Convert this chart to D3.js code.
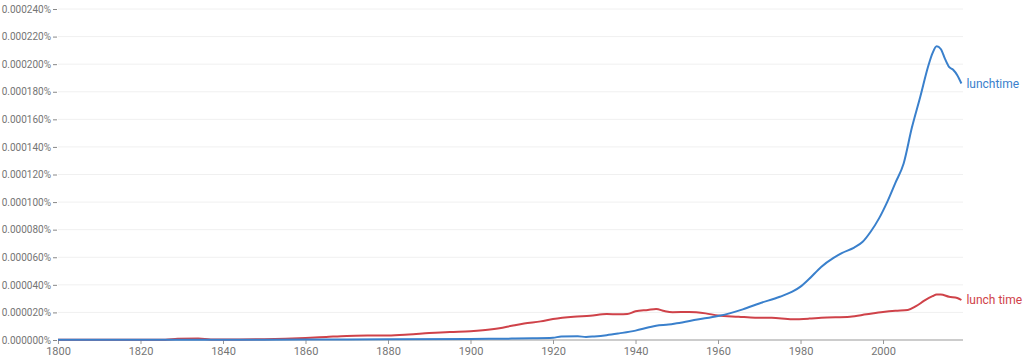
<!DOCTYPE html>
<html><head><meta charset="utf-8">
<script src="https://cdn.jsdelivr.net/npm/d3@7"></script>
<style>body{margin:0;background:#fff;} svg{display:block;font-family:Roboto,"Noto Sans",sans-serif;}</style>
</head><body>
<svg id="chart" width="1024" height="357"></svg>
<script>
// values in units of 1e-6 percent (e.g. 213 => 0.000213%)
const yTicks = [0, 20, 40, 60, 80, 100, 120, 140, 160, 180, 200, 220, 240];
const xTicks = [1800, 1820, 1840, 1860, 1880, 1900, 1920, 1940, 1960, 1980, 2000];
const seriesNames = ["lunchtime", "lunch time"];
const seriesColors = ["#3a80cc", "#cf4249"];

const lunchtimeYears = [1800,1830,1850,1860,1880,1900,1910,1915,1920,1922,1926,1928,1930,1933,1936,1940,1943,1945,1948,1950,1955,1960,1963,1966,1970,1975,1978,1980,1982,1985,1988,1990,1993,1995,1997,1999,2001,2003,2005,2007,2009,2011,2012,2013,2014,2015,2016,2017,2018,2019];
const lunchtimeValues = [0.1,0.1,0.15,0.3,0.5,0.8,1.0,1.2,1.6,2.6,2.7,2.2,2.6,3.5,4.8,6.8,9.0,10.4,11.2,12.1,14.8,17.4,19.5,22.2,26.5,31.4,35,38.7,44,53,59.5,63,67,71,78.5,88,100,114,128,154,176,199,208,213,211,204,198,196,192,186];

const lunchTimeYears = [1800,1826,1829,1834,1837,1840,1850,1860,1865,1870,1875,1880,1885,1890,1895,1900,1903,1907,1910,1913,1917,1920,1925,1929,1933,1936,1938,1940,1943,1945,1947,1949,1953,1957,1960,1965,1969,1973,1978,1982,1985,1992,1996,2000,2003,2006,2008,2010,2012,2013,2014,2016,2018,2019];
const lunchTimeValues = [0.2,0.2,0.9,1.0,0.4,0.3,0.6,1.5,2.2,2.9,3.2,3.3,4.0,5.0,5.8,6.3,7.0,8.5,10.3,12.0,13.5,15.2,16.9,17.6,18.8,18.6,18.8,20.8,21.8,22.5,21.0,20.2,20.3,19.3,17.8,16.9,16.2,16.1,15.0,15.5,16.2,16.9,18.6,20.3,21.2,21.8,24.5,28.5,31.8,33,33,31.4,30.5,29];

const svg = d3.select("#chart");
const x = d3.scaleLinear().domain([1800, 2019]).range([58, 961.4]);
const y = d3.scaleLinear().domain([0, 240]).range([340, 9]);
const xEnd = 963;

// gridlines
svg.append("g").selectAll("line").data(yTicks.slice(1)).join("line")
  .attr("x1", 58).attr("x2", xEnd)
  .attr("y1", d => y(d)).attr("y2", d => y(d))
  .attr("stroke", "#f0f0f0").attr("stroke-width", 1);

// y axis labels + tick dashes
const yAxis = d3.axisLeft(y).tickValues(yTicks).tickSize(4).tickPadding(2)
  .tickFormat(d => (d / 1e6).toFixed(6) + "%");
const gy = svg.append("g").attr("transform", "translate(57,0)").call(yAxis);
gy.select(".domain").remove();
gy.selectAll(".tick line").attr("stroke", "#888");
gy.selectAll(".tick text").attr("fill", "#757575").attr("font-size", 10).attr("font-family", "Roboto, sans-serif");

// x axis
const xAxis = d3.axisBottom(x).tickValues(xTicks).tickSize(4).tickPadding(3).tickFormat(d3.format("d"));
const gx = svg.append("g").attr("transform", "translate(0,340)").call(xAxis);
gx.select(".domain").attr("d", `M58,0H${xEnd}`).attr("stroke", "#999");
gx.selectAll(".tick line").attr("stroke", "#999");
gx.selectAll(".tick text").attr("fill", "#757575").attr("font-size", 11).attr("font-family", "Roboto, sans-serif");

const line = d3.line().x(d => x(d[0])).y(d => y(d[1])).curve(d3.curveMonotoneX);
const series = [
  d3.zip(lunchTimeYears, lunchTimeValues),
  d3.zip(lunchtimeYears, lunchtimeValues)
];
const cols = [seriesColors[1], seriesColors[0]];
const names = [seriesNames[1], seriesNames[0]];

svg.append("g").selectAll("path").data(series).join("path")
  .attr("d", line).attr("fill", "none")
  .attr("stroke", (d, i) => cols[i]).attr("stroke-width", 2)
  .attr("stroke-linejoin", "round");

svg.append("g").selectAll("text").data(series).join("text")
  .attr("x", d => x(d[d.length - 1][0]) + 5)
  .attr("y", d => y(d[d.length - 1][1]))
  .attr("dy", "0.35em")
  .attr("fill", (d, i) => cols[i]).attr("font-size", 12)
  .text((d, i) => names[i]);
</script>
</body></html>
